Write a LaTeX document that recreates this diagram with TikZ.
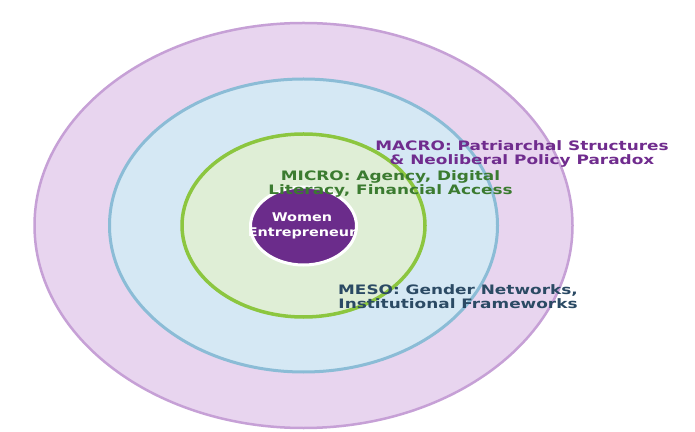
\documentclass[tikz,border=0pt]{standalone}
\usepackage{fontspec}
\usepackage{graphicx}
\setmainfont{DejaVu Sans}
\usetikzlibrary{shapes.geometric}
\definecolor{macrofill}{HTML}{E8D5EF}
\definecolor{macroedge}{HTML}{C6A0D6}
\definecolor{mesofill}{HTML}{D5E8F4}
\definecolor{mesoedge}{HTML}{8BBCD6}
\definecolor{microfill}{HTML}{DFEED6}
\definecolor{microedge}{HTML}{8CC63F}
\definecolor{corefill}{HTML}{6B2C8B}
\definecolor{macrotext}{HTML}{702C8E}
\definecolor{microtext}{HTML}{3B7B30}
\definecolor{mesotext}{HTML}{2B4A64}
\begin{document}
\begin{tikzpicture}[x=1pt,y=1pt,
  ring/.style={ellipse, inner sep=0pt, draw},
  lbl/.style={font=\fontsize{13}{13.5}\selectfont\bfseries, inner sep=0pt},
  corelbl/.style={font=\fontsize{12}{15}\selectfont\bfseries, inner sep=0pt, text=white}]
\useasboundingbox (0,0) rectangle (695,431);
\fill[white] (0,0) rectangle (695,431);
\node[ring, fill=macrofill, draw=macroedge, line width=2.5pt, minimum width=538pt, minimum height=405pt] (macro) at (303.5,205.5) {};
\node[ring, fill=mesofill, draw=mesoedge, line width=3pt, minimum width=388pt, minimum height=293pt] (meso) at (303.5,205.5) {};
\node[ring, fill=microfill, draw=microedge, line width=3.5pt, minimum width=243pt, minimum height=183pt] (micro) at (303.5,205.5) {};
\node[ring, fill=corefill, draw=white, line width=3pt, minimum width=106pt, minimum height=78pt] (core) at (303.5,205) {};
\node[corelbl] (corelabel) at (302,205) {\scalebox{1.2}[1]{\begin{tabular}{@{}c@{}}Women\\Entrepreneur\end{tabular}}};
\node[lbl, text=macrotext] (macrolabel) at (522,276) {\scalebox{1.3}[1]{\begin{tabular}{@{}c@{}}MACRO: Patriarchal Structures\\\& Neoliberal Policy Paradox\end{tabular}}};
\node[lbl, text=microtext] (microlabel) at (390.5,246) {\scalebox{1.3}[1]{\begin{tabular}{@{}c@{}}MICRO: Agency, Digital\\Literacy, Financial Access\end{tabular}}};
\node[lbl, text=mesotext] (mesolabel) at (458,132) {\scalebox{1.3}[1]{\begin{tabular}{@{}c@{}}MESO: Gender Networks,\\Institutional Frameworks\end{tabular}}};
\end{tikzpicture}
\end{document}
